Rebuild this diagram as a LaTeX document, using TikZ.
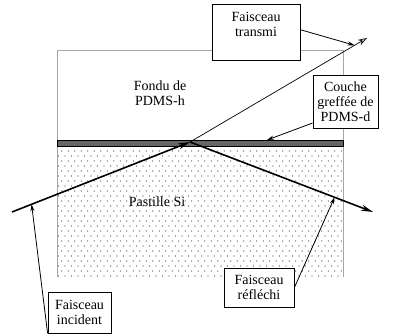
\documentclass[tikz,border=0pt]{standalone}
\usepackage{fontspec}
\setmainfont{Liberation Serif}
\usetikzlibrary{arrows.meta,patterns.meta,calc}
\tikzdeclarepattern{name=sidots,type=uncolored,
  bottom left={(-1pt,-1pt)},top right={(5pt,9pt)},tile size={(6.5pt,10pt)},
  code={\fill (0pt,0pt) circle (0.7pt); \fill (3.25pt,5pt) circle (0.7pt);}}
\begin{document}
\begin{tikzpicture}[x=1pt,y=-1pt,font=\fontsize{14}{15}\selectfont,
  lbl/.style={draw,fill=white,line width=0.8pt,align=center,inner sep=1pt},
  beam/.style={line width=1.6pt,-{Stealth[length=12pt,width=6pt]}},
  ptr/.style={line width=0.8pt,-{Stealth[length=7pt,width=4pt]}},
  frame/.style={gray!70,line width=0.7pt}]
\useasboundingbox (0,0) rectangle (398,336);
% substrate
\fill[pattern=sidots,pattern color=black!75] (57,146) rectangle (343,277);
\draw[frame] (57,277) -- (57,50) -- (343,50) -- (343,277);
% grafted layer
\filldraw[fill=black!60,draw=black,line width=0.6pt] (57,140) rectangle (343,146);
% texts
\node[align=center] (fondu) at (160,93) {Fondu de\\PDMS-h};
\node (si) at (157,202) {Pastille Si};
% beams
\coordinate (P) at (190,142);
\coordinate (S) at (12,212);
\coordinate (R) at (373,212);
\coordinate (T) at (367,38);
\draw[beam] (S) -- (P);
\draw[beam] (P) -- (R);
\draw[line width=0.7pt,-{Stealth[open,length=9pt,width=6pt]}] (P) -- (T);
% label boxes
\node[lbl,minimum width=88pt,minimum height=56pt] (trbox) at (256,32) {};
\node[align=center] (trtext) at (256,24) {Faisceau\\transmi};
\node[lbl,minimum width=65pt,minimum height=53pt] (cou) at (345.5,101.5) {Couche\\greffée de\\PDMS-d};
\node[lbl,minimum width=63pt,minimum height=41pt] (inc) at (79.5,312.5) {Faisceau\\incident};
\node[lbl,minimum width=70pt,minimum height=39pt] (ref) at (259,287.5) {Faisceau\\réfléchi};
% pointers
\coordinate (ttip) at ($(P)!0.93!(T)$);
\coordinate (ltip) at (267,140);
\coordinate (itip) at ($(S)!0.11!(P)$);
\coordinate (rtip) at ($(P)!0.79!(R)$);
\draw[ptr] ($(trbox.north east)!0.46!(trbox.south east)$) -- (ttip);
\draw[ptr] ($(cou.south west)!0.1!(cou.north west)$) -- (ltip);
\draw[ptr] (inc.south west) -- (itip);
\draw[ptr] (ref.east) -- (rtip);
\end{tikzpicture}
\end{document}
